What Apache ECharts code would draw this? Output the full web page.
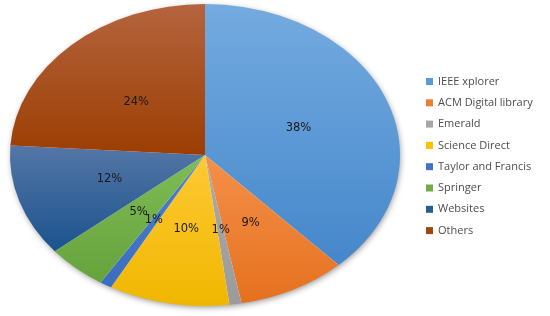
<!DOCTYPE html>
<html>
<head>
<meta charset="utf-8">
<script src="https://cdn.jsdelivr.net/npm/echarts@6/dist/echarts.min.js"></script>
<style>
  html, body { margin: 0; padding: 0; background: #ffffff; }
  #sourcesPie { width: 550px; height: 316px; }
</style>
</head>
<body>
<div id="sourcesPie"></div>
<script>
// share of studies found in each source (percent)
const sources = ['IEEE xplorer', 'ACM Digital library', 'Emerald', 'Science Direct',
                 'Taylor and Francis', 'Springer', 'Websites', 'Others']
const shares = [38, 9, 1, 10, 1, 5, 12, 24]
// excel style fill: lighter at top, darker at bottom
const topColors = ['#74abe0', '#f4904a', '#aaaaaa', '#ffc935', '#4f80d0', '#7fbc56', '#5476a6', '#b5643e']
const bottomColors = ['#4587cb', '#e5711e', '#9b9b9b', '#f0b700', '#3a6cc0', '#66a33c', '#1b538e', '#9b3e03']
const legendColors = ['#5b9bd5', '#ed7d31', '#a5a5a5', '#ffc000', '#4472c4', '#70ad47', '#255e91', '#9e480e']

const cx = 205, cy = 155
const rx = 195, ry = 151
const squash = ry / rx

let chart = echarts.init(document.getElementById('sourcesPie'), null, { renderer: 'canvas' })

let pieData = sources.map((name, i) => ({
    name: name,
    value: shares[i],
    itemStyle: {
        color: {
            type: 'linear', x: 0, y: 0, x2: 0, y2: 1,
            colorStops: [
                { offset: 0, color: topColors[i] },
                { offset: 1, color: bottomColors[i] },
            ],
        },
    },
}))

let chartOptions = {
    animation: false,
    backgroundColor: '#ffffff',
    legend: {
        orient: 'vertical',
        left: 421,
        top: 71,
        icon: 'rect',
        itemWidth: 7,
        itemHeight: 7,
        itemGap: 10.3,
        data: sources.map((name, i) => ({ name: name, itemStyle: { color: legendColors[i] } })),
        textStyle: {
            fontFamily: 'Open Sans',
            fontSize: 11,
            color: '#4d4d4d',
            padding: [0, 0, 0, 0],
        },
        selectedMode: false,
    },
    graphic: [{
        // soft drop shadow under the pie
        type: 'ellipse',
        z: -1,
        silent: true,
        shape: { cx: cx, cy: cy, rx: rx - 1, ry: ry - 1 },
        style: {
            fill: '#ffffff',
            shadowBlur: 6,
            shadowOffsetX: 1,
            shadowOffsetY: 2,
            shadowColor: 'rgba(0, 0, 0, 0.45)',
        },
    }],
    series: [{
        type: 'pie',
        center: [cx, cy],
        radius: [0, rx],
        startAngle: 90,
        clockwise: true,
        avoidLabelOverlap: false,
        silent: true,
        label: {
            show: true,
            position: 'inside',
            formatter: '{c}%',
            fontFamily: 'DejaVu Sans',
            fontSize: 11.5,
            color: '#1a1a1a',
        },
        labelLine: { show: false },
        labelLayout: (params) => {
            // move labels into the squashed pie
            const r = params.labelRect
            const lx = r.x + r.width / 2
            const ly = r.y + r.height / 2
            return { x: lx, y: cy + 1 + (ly - cy) * squash * 0.96, align: 'center', verticalAlign: 'middle' }
        },
        data: pieData,
    }],
}

chart.setOption(chartOptions)

// echarts pies are round, squash the sectors into an ellipse
chart.getZr().storage.getDisplayList(true).forEach((el) => {
    if (el.type === 'sector') {
        el.originX = cx
        el.originY = cy
        el.scaleY = squash
        el.markRedraw()
    }
})
chart.getZr().refreshImmediately()
</script>
</body>
</html>
